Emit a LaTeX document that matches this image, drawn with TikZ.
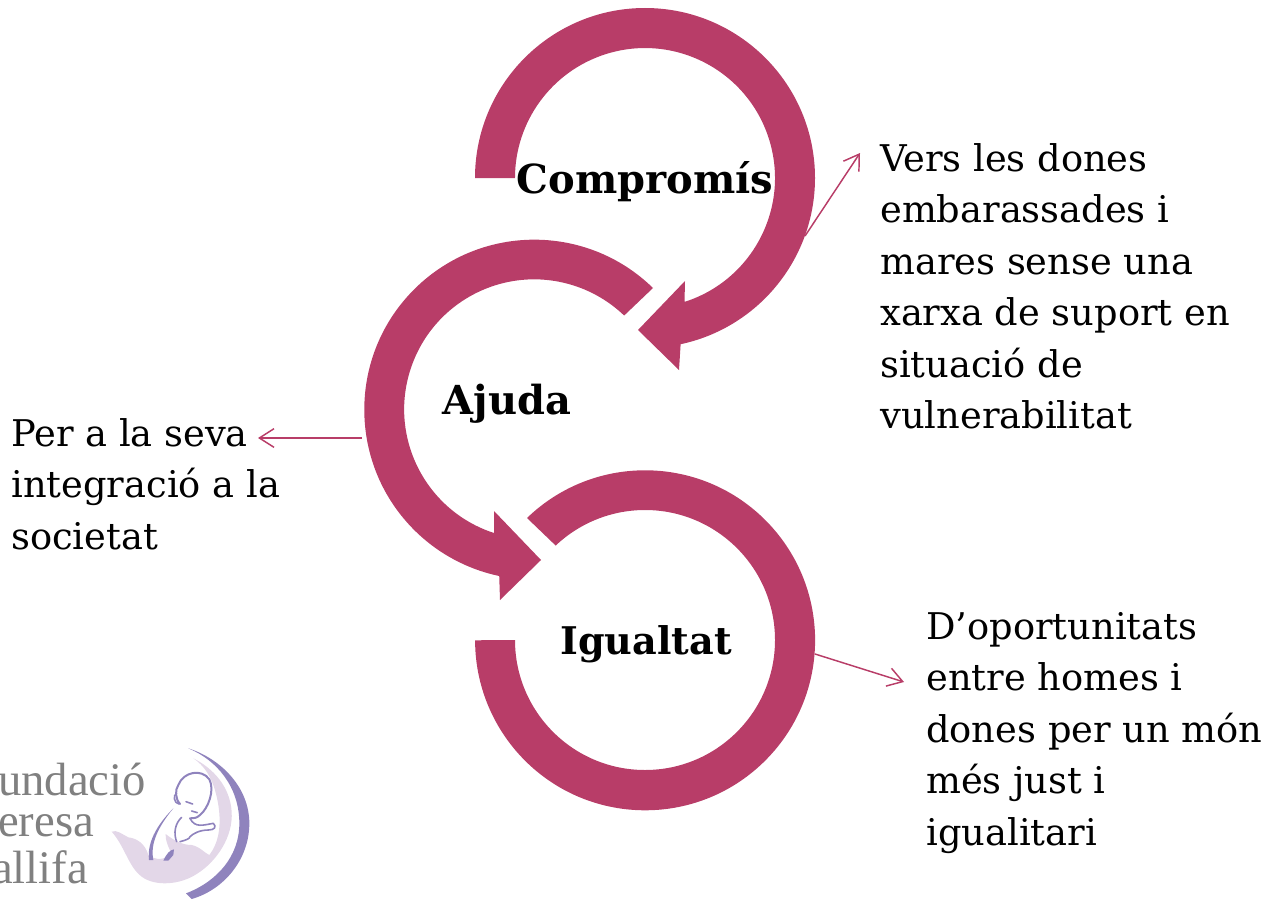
\documentclass[tikz,border=0pt]{standalone}
\usepackage{fontspec}
\usetikzlibrary{arrows.meta}
\setmainfont{DejaVu Serif}
\newfontfamily\logofont{Liberation Serif}
\definecolor{ringc}{HTML}{B83D68}
\definecolor{logop}{HTML}{8F83BD}
\definecolor{logol}{HTML}{E3D7E8}
\definecolor{logog}{HTML}{808080}
\tikzset{
  ring/.style={fill=ringc,draw=none},
  link/.style={draw=ringc,line width=1.1pt,-{Straight Barb[length=11pt,width=14pt,line width=1.1pt]}},
  bodytext/.style={font=\fontsize{27.6}{38.6}\selectfont,align=left,anchor=north west,inner sep=0pt,text=black},
  title/.style={font=\fontsize{30}{36}\selectfont\bfseries,inner sep=0pt,text=black},
  logotext/.style={font=\logofont\fontsize{35}{35}\selectfont,text=logog,inner sep=0pt,anchor=base west},
  babyline/.style={draw=logop,line width=1.2pt,line cap=round,line join=round}
}
\begin{document}
\begin{tikzpicture}[x=0.75pt,y=-0.75pt]
\useasboundingbox (0,0) rectangle (1281,899);
\clip (0,0) rectangle (1281,899);
% ring 1
\path[ring] (475,178) arc[start angle=180,end angle=-77.9,radius=127.5pt]
  -- (679,370) -- (638,330) -- (685,281) -- (684.5,301.9)
  arc[start angle=-72.3,end angle=180,radius=97.5pt] -- cycle;
% ring 2
\path[ring] (653,288) arc[start angle=45.7,end angle=258.1,radius=127.5pt]
  -- (500,600) -- (541,560) -- (494,511) -- (494,533)
  arc[start angle=252,end angle=46.2,radius=97.5pt] -- cycle;
% ring 3
\path[ring] (527,518) arc[start angle=134,end angle=-180,radius=127.5pt]
  -- (515,640) arc[start angle=-180,end angle=133.4,radius=97.5pt] -- cycle;
% titles
\node[title] (compromis) at (645,182) {Compromís};
\node[title] (ajuda) at (507,404) {Ajuda};
\node[title,font=\fontsize{28.6}{36}\selectfont\bfseries] (igualtat) at (646,644) {Igualtat};
% side texts
\node[bodytext] (vers) at (880,143) {Vers les dones\\embarassades i\\mares sense una\\xarxa de suport en\\situació de\\vulnerabilitat};
\node[bodytext] (per) at (11,418) {Per a la seva\\integració a la\\societat};
\node[bodytext] (dop) at (926,612) {D’oportunitats\\entre homes i\\dones per un món\\més just i\\igualitari};
% connectors
\coordinate (ringa) at (805,236);
\coordinate (ringb) at (362,438);
\coordinate (ringc) at (815,654);
\draw[link] (ringa) -- ([shift={(-20,10)}]vers.north west);
\draw[link] (ringb) -- ([shift={(247,20)}]per.north west);
\draw[link] (ringc) -- ([shift={(-22,70)}]dop.north west);
% logo text
\node[logotext] (l1) at (-2,795) {undació};
\node[logotext] (l2) at (-2,836) {eresa};
\node[logotext] (l3) at (-8,883) {allifa};
% logo emblem (coordinates of the 3x crop)
\begin{scope}[x=0.25pt,y=-0.25pt,yshift=-547.5pt]
\path[fill=logol] (335,305) .. controls (350,298) and (365,312) .. (385,322)
  .. controls (410,325) and (435,340) .. (445,375)
  .. controls (470,392) and (490,390) .. (515,372)
  .. controls (505,350) and (495,330) .. (497,312)
  .. controls (520,330) and (545,345) .. (575,345)
  .. controls (600,350) and (615,370) .. (628,375)
  .. controls (655,340) and (665,290) .. (655,225)
  .. controls (645,165) and (625,115) .. (580,85)
  .. controls (640,115) and (690,170) .. (695,245)
  .. controls (700,320) and (650,395) .. (590,432)
  .. controls (540,465) and (465,470) .. (425,440)
  .. controls (385,410) and (375,350) .. (335,305) -- cycle;
\path[fill=logop] (565,55) .. controls (660,85) and (748,170) .. (748,280)
  .. controls (748,390) and (670,480) .. (575,507)
  -- (558,490) .. controls (650,455) and (718,380) .. (718,280)
  .. controls (718,170) and (650,90) .. (565,55) -- cycle;
\draw[babyline,line width=1.5pt] (540,222) .. controls (525,205) and (525,180) .. (535,165)
  .. controls (550,125) and (605,115) .. (628,148)
  .. controls (645,180) and (625,235) .. (600,255)
  .. controls (590,265) and (580,265) .. (570,265);
\draw[babyline] (530,190) .. controls (518,195) and (522,220) .. (537,222);
\draw[babyline] (558,215) -- (578,222);
\draw[babyline] (575,243) -- (592,248);
\draw[babyline] (570,265) .. controls (585,295) and (610,285) .. (640,280)
  .. controls (650,290) and (645,300) .. (625,300)
  .. controls (600,300) and (580,310) .. (570,320)
  .. controls (570,325) and (560,330) .. (540,335);
\draw[babyline] (545,262) .. controls (525,280) and (520,310) .. (530,335);
\path[fill=logop] (520,235) .. controls (480,275) and (440,330) .. (447,390)
  -- (460,390) .. controls (450,340) and (475,290) .. (520,235) -- cycle;
\path[fill=logop] (490,392) .. controls (500,370) and (510,360) .. (522,358)
  -- (520,375) -- (505,392) -- cycle;
\end{scope}
\end{tikzpicture}
\end{document}
